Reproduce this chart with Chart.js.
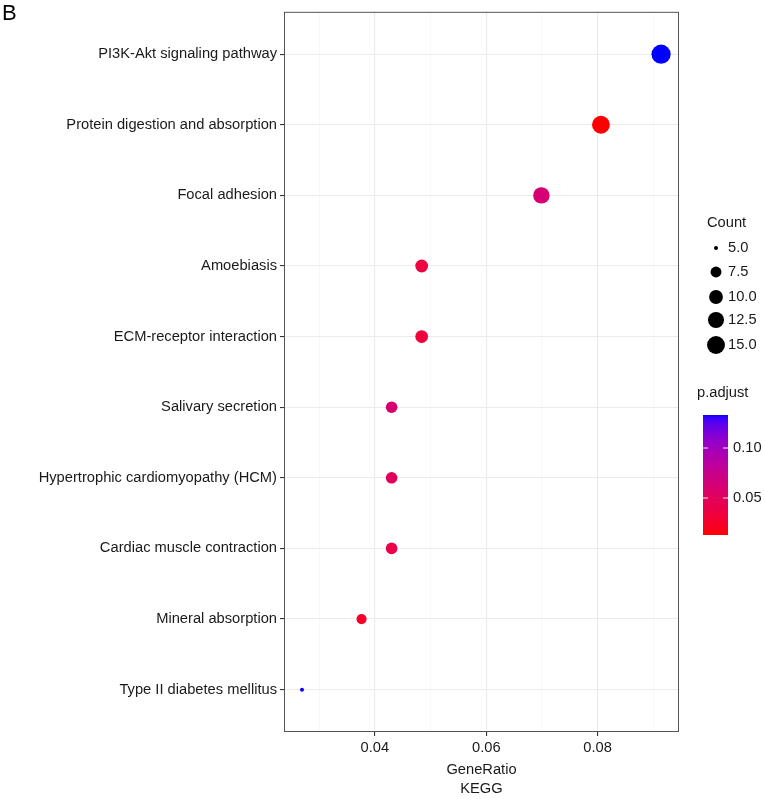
<!DOCTYPE html>
<html>
<head>
<meta charset="utf-8">
<script src="https://cdn.jsdelivr.net/npm/chart.js@4.4.1/dist/chart.umd.min.js"></script>
<style>
  html, body { margin: 0; padding: 0; background: #fff; }
</style>
</head>
<body>
<canvas id="chart" width="765" height="799"></canvas>
<script>
// DATA (top row first)
const pathways = [
    'PI3K-Akt signaling pathway',
    'Protein digestion and absorption',
    'Focal adhesion',
    'Amoebiasis',
    'ECM-receptor interaction',
    'Salivary secretion',
    'Hypertrophic cardiomyopathy (HCM)',
    'Cardiac muscle contraction',
    'Mineral absorption',
    'Type II diabetes mellitus'
];
const geneRatio = [0.0914, 0.0806, 0.0699, 0.0484, 0.0484, 0.0430, 0.0430, 0.0430, 0.0376, 0.0269];
const counts = [17, 15, 13, 9, 9, 8, 8, 8, 7, 5];
const pAdjust = [0.133, 0.013, 0.062, 0.035, 0.033, 0.060, 0.049, 0.040, 0.025, 0.1325];

const xGridValues = [0.03, 0.04, 0.05, 0.06, 0.07, 0.08, 0.09];
const xTickLabels = [0.04, 0.06, 0.08];
const countBreaks = [5, 7.5, 10, 12.5, 15];
const pBreaks = [0.05, 0.10];

const FONT = '"Liberation Sans", Arial, Helvetica, sans-serif';
const TEXT = '#1a1a1a';
const FS = 14.7;

// size scale (area-like, like ggplot scale_size)
const cMin = Math.min(...counts), cMax = Math.max(...counts);
function radius(c) {
    return 2 + 7.6 * Math.sqrt((c - cMin) / (cMax - cMin));
}

// colour scale red -> blue, interpolated in Lab
const pMin = Math.min(...pAdjust), pMax = Math.max(...pAdjust);
function toLin(c) { c /= 255; return c <= 0.04045 ? c / 12.92 : Math.pow((c + 0.055) / 1.055, 2.4); }
function toSrgb(c) {
    c = c <= 0.0031308 ? 12.92 * c : 1.055 * Math.pow(c, 1 / 2.4) - 0.055;
    return Math.round(Math.max(0, Math.min(1, c)) * 255);
}
function rgbToLab(rgb) {
    const r = toLin(rgb[0]), g = toLin(rgb[1]), b = toLin(rgb[2]);
    const X = (0.4124 * r + 0.3576 * g + 0.1805 * b) / 0.95047;
    const Y = 0.2126 * r + 0.7152 * g + 0.0722 * b;
    const Z = (0.0193 * r + 0.1192 * g + 0.9505 * b) / 1.08883;
    const f = t => t > 0.008856 ? Math.cbrt(t) : 7.787 * t + 16 / 116;
    const fx = f(X), fy = f(Y), fz = f(Z);
    return [116 * fy - 16, 500 * (fx - fy), 200 * (fy - fz)];
}
function labToRgb(lab) {
    const fy = (lab[0] + 16) / 116, fx = fy + lab[1] / 500, fz = fy - lab[2] / 200;
    const inv = t => t > 0.206893 ? t * t * t : (t - 16 / 116) / 7.787;
    const X = inv(fx) * 0.95047, Y = inv(fy), Z = inv(fz) * 1.08883;
    const r = 3.2406 * X - 1.5372 * Y - 0.4986 * Z;
    const g = -0.9689 * X + 1.8758 * Y + 0.0415 * Z;
    const b = 0.0557 * X - 0.2040 * Y + 1.0570 * Z;
    return [toSrgb(r), toSrgb(g), toSrgb(b)];
}
const labLow = rgbToLab([255, 0, 0]);
const labHigh = rgbToLab([0, 0, 255]);
function pColor(p) {
    const t = Math.max(0, Math.min(1, (p - pMin) / (pMax - pMin)));
    const lab = labLow.map((v, i) => v + (labHigh[i] - v) * t);
    const c = labToRgb(lab);
    return 'rgb(' + c[0] + ',' + c[1] + ',' + c[2] + ')';
}

const isLabel = v => xTickLabels.some(l => Math.abs(l - v) < 1e-9);

// frame, panel letter and legends
const decor = {
    id: 'decor',
    afterDatasetsDraw(chart) {
        const a = chart.chartArea;
        const ctx = chart.ctx;
        ctx.save();
        ctx.strokeStyle = '#555';
        ctx.lineWidth = 1;
        ctx.strokeRect(a.left + 0.5, a.top + 0.5, a.right - a.left - 1, a.bottom - a.top - 1);
        ctx.restore();
    },
    afterDraw(chart) {
        const ctx = chart.ctx;
        ctx.save();
        ctx.fillStyle = '#000';
        ctx.textBaseline = 'middle';
        ctx.textAlign = 'left';

        ctx.font = '22px ' + FONT;
        ctx.fillText('B', 2, 14);

        // Count legend
        ctx.font = FS + 'px ' + FONT;
        ctx.fillStyle = TEXT;
        ctx.fillText('Count', 707, 223);
        const rowY = [248, 272, 297, 320, 345];
        countBreaks.forEach((c, i) => {
            ctx.fillStyle = '#000';
            ctx.beginPath();
            ctx.arc(716, rowY[i], radius(c), 0, Math.PI * 2);
            ctx.fill();
            ctx.fillStyle = TEXT;
            ctx.fillText(c.toFixed(1), 728, rowY[i]);
        });

        // p.adjust colour bar
        ctx.fillText('p.adjust', 697, 393);
        const bx = 703, bw = 25, top = 415, bottom = 535;
        for (let y = top; y < bottom; y++) {
            const p = pMax - (y - top + 0.5) / (bottom - top) * (pMax - pMin);
            ctx.fillStyle = pColor(p);
            ctx.fillRect(bx, y, bw, 1);
        }
        pBreaks.forEach(p => {
            const y = bottom - (p - pMin) / (pMax - pMin) * (bottom - top);
            ctx.strokeStyle = 'rgba(255,255,255,0.9)';
            ctx.lineWidth = 1;
            ctx.beginPath();
            ctx.moveTo(bx, y); ctx.lineTo(bx + 5, y);
            ctx.moveTo(bx + bw - 5, y); ctx.lineTo(bx + bw, y);
            ctx.stroke();
            ctx.fillStyle = TEXT;
            ctx.fillText(p.toFixed(2), 733, y);
        });
        ctx.restore();
    }
};

const ctx = document.getElementById('chart').getContext('2d');

new Chart(ctx, {
    type: 'scatter',
    data: {
        datasets: [{
            data: pathways.map((p, i) => ({ x: geneRatio[i], y: i })),
            pointRadius: counts.map(radius),
            pointBackgroundColor: pAdjust.map(pColor),
            pointBorderWidth: 0,
            pointHoverRadius: counts.map(radius)
        }]
    },
    options: {
        responsive: false,
        animation: false,
        events: [],
        layout: { padding: { top: 11, right: 86, bottom: 0, left: 0 } },
        plugins: {
            legend: { display: false },
            tooltip: { enabled: false }
        },
        scales: {
            x: {
                type: 'linear',
                min: 0.02367,
                max: 0.09462,
                afterBuildTicks: scale => { scale.ticks = xGridValues.map(v => ({ value: v })); },
                afterFit: scale => { scale.height = 67; },
                border: { display: false },
                grid: {
                    color: c => isLabel(c.tick.value) ? '#ebebeb' : '#f4f4f4',
                    lineWidth: c => isLabel(c.tick.value) ? 1.1 : 0.6,
                    tickColor: c => isLabel(c.tick.value) ? '#333' : 'rgba(0,0,0,0)',
                    tickLength: 4
                },
                ticks: {
                    autoSkip: false,
                    maxRotation: 0,
                    padding: 3,
                    color: TEXT,
                    font: { family: FONT, size: FS },
                    callback: v => isLabel(v) ? v.toFixed(2) : ''
                },
                title: {
                    display: true,
                    text: ['GeneRatio', 'KEGG'],
                    color: TEXT,
                    font: { family: FONT, size: FS, lineHeight: 1.3 },
                    padding: { top: 4, bottom: 0 }
                }
            },
            y: {
                type: 'linear',
                reverse: true,
                min: -0.6,
                max: pathways.length - 0.4,
                afterBuildTicks: scale => { scale.ticks = pathways.map((p, i) => ({ value: i })); },
                afterFit: scale => { scale.width = 284; },
                border: { display: false },
                grid: {
                    color: '#ebebeb',
                    lineWidth: 1.1,
                    tickColor: '#333',
                    tickLength: 4
                },
                ticks: {
                    autoSkip: false,
                    padding: 3,
                    color: TEXT,
                    font: { family: FONT, size: FS },
                    callback: v => pathways[v]
                }
            }
        }
    },
    plugins: [decor]
});
</script>
</body>
</html>
